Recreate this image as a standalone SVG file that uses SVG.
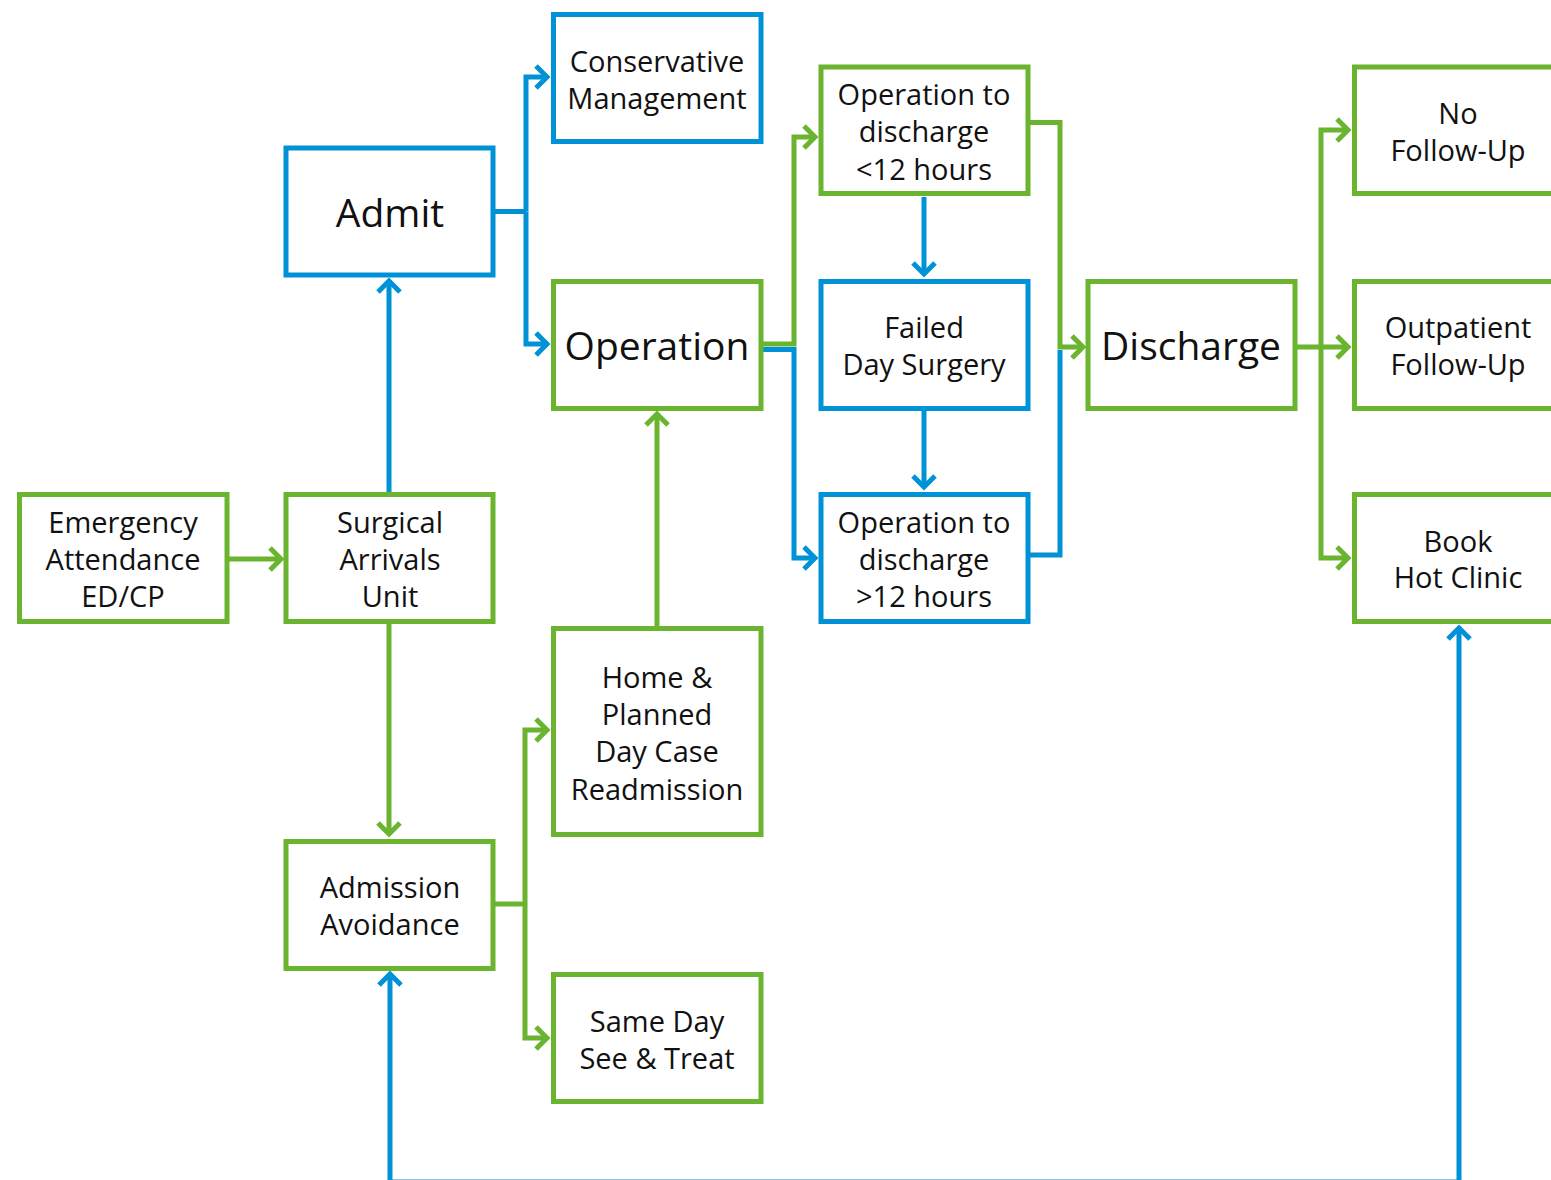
<svg xmlns="http://www.w3.org/2000/svg" width="1551" height="1180" viewBox="0 0 1551 1180">
  <style>
    .box { fill: #ffffff; stroke-width: 5; }
    .g { stroke: #6ab42f; }
    .b { stroke: #0092d6; }
    .lbl { font-family: "Open Sans", "Noto Sans", "Liberation Sans", sans-serif; font-size: 29px; fill: #111111; text-anchor: middle; }
    .big { font-size: 39px; }
    .conn { fill: none; stroke-width: 5; stroke-linejoin: miter; }
  </style>
  <defs>
    <marker id="arrG" markerUnits="userSpaceOnUse" viewBox="-14 -14 20 28" refX="0" refY="0" markerWidth="20" markerHeight="28" orient="auto" overflow="visible">
      <polyline points="-11,-11 0,0 -11,11" fill="none" stroke="#6ab42f" stroke-width="5"/>
    </marker>
    <marker id="arrB" markerUnits="userSpaceOnUse" viewBox="-14 -14 20 28" refX="0" refY="0" markerWidth="20" markerHeight="28" orient="auto" overflow="visible">
      <polyline points="-11,-11 0,0 -11,11" fill="none" stroke="#0092d6" stroke-width="5"/>
    </marker>
  </defs>
  <rect width="1551" height="1180" fill="#ffffff"/>

  <g id="connectors">
    <!-- blue links -->
    <path class="conn b" d="M493 211.5 H526"/>
    <path class="conn b" d="M526 211.5 V77 H547" marker-end="url(#arrB)"/>
    <path class="conn b" d="M526 211.5 V344 H547" marker-end="url(#arrB)"/>
    <path class="conn b" d="M389 494 V281" marker-end="url(#arrB)"/>
    <path class="conn b" d="M762 349.5 H794 V558 H815" marker-end="url(#arrB)"/>
    <path class="conn b" d="M924 197 V274" marker-end="url(#arrB)"/>
    <path class="conn b" d="M924 411 V487" marker-end="url(#arrB)"/>
    <path class="conn b" d="M1030 555 H1060 V350"/>
    <path class="conn b" d="M390 1182 V974" marker-end="url(#arrB)"/>
    <path class="conn b" d="M390 1182 H1459 V628" marker-end="url(#arrB)"/>
    <!-- green links -->
    <path class="conn g" d="M229 559 H281" marker-end="url(#arrG)"/>
    <path class="conn g" d="M389 622 V834" marker-end="url(#arrG)"/>
    <path class="conn g" d="M495 904 H525"/>
    <path class="conn g" d="M525 904 V730 H547" marker-end="url(#arrG)"/>
    <path class="conn g" d="M525 904 V1038 H547" marker-end="url(#arrG)"/>
    <path class="conn g" d="M657 628 V414" marker-end="url(#arrG)"/>
    <path class="conn g" d="M762 344 H794 V137 H815" marker-end="url(#arrG)"/>
    <path class="conn g" d="M1030 122.5 H1060 V347 H1083" marker-end="url(#arrG)"/>
    <path class="conn g" d="M1297 347 H1348" marker-end="url(#arrG)"/>
    <path class="conn g" d="M1321 347 V130 H1348" marker-end="url(#arrG)"/>
    <path class="conn g" d="M1321 347 V558 H1348" marker-end="url(#arrG)"/>
  </g>

  <g id="emergency">
    <rect class="box g" x="19.5" y="494.5" width="207.5" height="127"/>
    <text class="lbl" x="123" y="533">Emergency</text>
    <text class="lbl" x="123" y="570">Attendance</text>
    <text class="lbl" x="123" y="607">ED/CP</text>
  </g>
  <g id="surgical-arrivals">
    <rect class="box g" x="286" y="494.5" width="207" height="127"/>
    <text class="lbl" x="390" y="533">Surgical</text>
    <text class="lbl" x="390" y="570">Arrivals</text>
    <text class="lbl" x="390" y="607">Unit</text>
  </g>
  <g id="admit">
    <rect class="box b" x="286" y="148" width="207" height="127"/>
    <text class="lbl big" x="390" y="227">Admit</text>
  </g>
  <g id="admission-avoidance">
    <rect class="box g" x="286" y="841.5" width="207" height="127"/>
    <text class="lbl" x="390" y="898">Admission</text>
    <text class="lbl" x="390" y="935">Avoidance</text>
  </g>
  <g id="conservative">
    <rect class="box b" x="553.5" y="14.5" width="207.5" height="127"/>
    <text class="lbl" x="657" y="72">Conservative</text>
    <text class="lbl" x="657" y="109">Management</text>
  </g>
  <g id="operation">
    <rect class="box g" x="553.5" y="281.5" width="207.5" height="127"/>
    <text class="lbl big" x="657" y="360">Operation</text>
  </g>
  <g id="home-planned">
    <rect class="box g" x="553.5" y="628.5" width="207.5" height="206"/>
    <text class="lbl" x="657" y="688">Home &amp;</text>
    <text class="lbl" x="657" y="725">Planned</text>
    <text class="lbl" x="657" y="762">Day Case</text>
    <text class="lbl" x="657" y="800">Readmission</text>
  </g>
  <g id="same-day">
    <rect class="box g" x="553.5" y="974.5" width="207.5" height="127"/>
    <text class="lbl" x="657" y="1032">Same Day</text>
    <text class="lbl" x="657" y="1069">See &amp; Treat</text>
  </g>
  <g id="op-under-12">
    <rect class="box g" x="821" y="67" width="207" height="126.5"/>
    <text class="lbl" x="924" y="105">Operation to</text>
    <text class="lbl" x="924" y="142">discharge</text>
    <text class="lbl" x="924" y="180">&lt;12 hours</text>
  </g>
  <g id="failed-day-surgery">
    <rect class="box b" x="821" y="281.5" width="207" height="127"/>
    <text class="lbl" x="924" y="338">Failed</text>
    <text class="lbl" x="924" y="375">Day Surgery</text>
  </g>
  <g id="op-over-12">
    <rect class="box b" x="821" y="494.5" width="207" height="127"/>
    <text class="lbl" x="924" y="533">Operation to</text>
    <text class="lbl" x="924" y="570">discharge</text>
    <text class="lbl" x="924" y="607">&gt;12 hours</text>
  </g>
  <g id="discharge">
    <rect class="box g" x="1088" y="281.5" width="207" height="127"/>
    <text class="lbl big" x="1191" y="360">Discharge</text>
  </g>
  <g id="no-follow-up">
    <rect class="box g" x="1354.5" y="67" width="210" height="126.5"/>
    <text class="lbl" x="1458" y="124">No</text>
    <text class="lbl" x="1458" y="161">Follow-Up</text>
  </g>
  <g id="outpatient-follow-up">
    <rect class="box g" x="1354.5" y="281.5" width="210" height="127"/>
    <text class="lbl" x="1458" y="338">Outpatient</text>
    <text class="lbl" x="1458" y="375">Follow-Up</text>
  </g>
  <g id="hot-clinic">
    <rect class="box g" x="1354.5" y="494.5" width="210" height="127"/>
    <text class="lbl" x="1458" y="552">Book</text>
    <text class="lbl" x="1458" y="588">Hot Clinic</text>
  </g>
</svg>
